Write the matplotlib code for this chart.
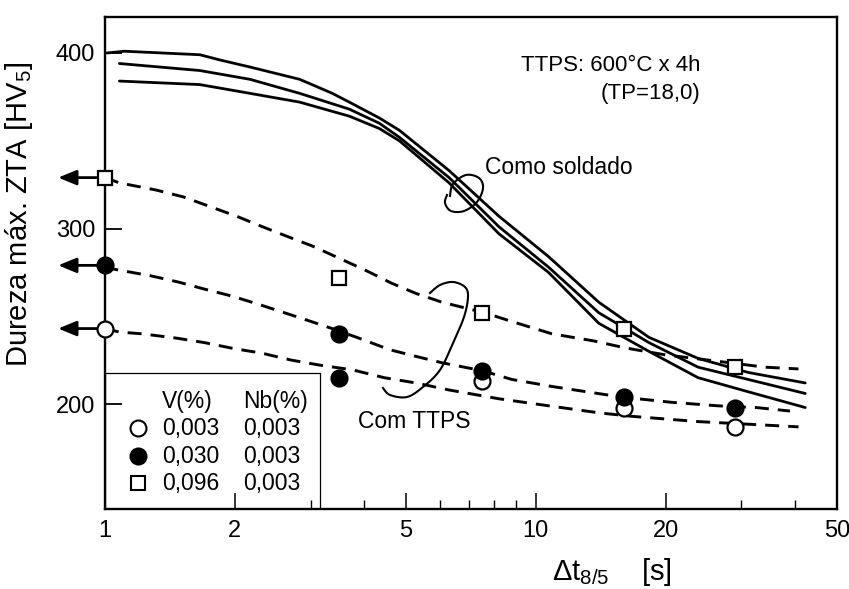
import numpy as np
import matplotlib
matplotlib.use('Agg')
import matplotlib.pyplot as plt
import matplotlib.transforms as mtransforms
from matplotlib.patches import Rectangle
from matplotlib.ticker import FixedLocator, FixedFormatter, NullFormatter

plt.rcParams['font.family'] = ['Liberation Sans', 'DejaVu Sans']
plt.rcParams['mathtext.fontset'] = 'custom'
plt.rcParams['mathtext.rm'] = 'Liberation Sans'
plt.rcParams['mathtext.it'] = 'Liberation Sans:italic'
plt.rcParams['mathtext.bf'] = 'Liberation Sans:bold'

# ---------------- data ----------------
pts_x = [1, 3.5, 7.5, 16, 29]
hv_v003 = [243, 215, 213, 198, 187]   # V=0,003 (open circles)
hv_v030 = [279, 240, 219, 204, 198]   # V=0,030 (filled circles)
hv_v096 = [329, 272, 252, 243, 221]   # V=0,096 (squares)

# "Como soldado" (as welded) solid curves
sol_top_x = [1.01, 1.11, 1.66, 1.85, 2.17, 2.83, 3.37, 3.69, 4.33, 4.82, 6.29, 8.21, 10.7,
             14.0, 18.3, 23.8, 31.1, 42.2]
sol_top_y = [400, 401, 399, 396, 392, 385, 377, 372, 363, 356, 333, 307, 284,
             258, 238, 226, 218, 212]
sol_mid_x = [1.08, 1.66, 2.17, 2.83, 3.69, 4.33, 4.82, 6.29, 8.21, 10.7, 14.0, 18.3, 23.8,
             31.1, 42.2]
sol_mid_y = [394, 390, 385, 377, 368, 360, 352, 329, 301, 278, 252, 235, 221,
             214, 206]
sol_bot_x = [1.08, 1.66, 2.17, 2.83, 3.69, 4.33, 4.82, 6.29, 8.21, 10.7, 14.0, 18.3, 23.8,
             31.1, 42.2]
sol_bot_y = [384, 382, 377, 372, 364, 357, 350, 326, 297, 275, 246, 230, 215,
             207, 198]

# "Com TTPS" dashed fit curves
dash_sq_x = [1.0, 1.08, 1.31, 1.52, 1.73, 2.02, 2.32, 2.68, 3.03, 3.50, 4.04, 4.61, 5.27, 6.06,
             7.6, 8.8, 10.9, 13.6, 16.1, 20.0, 25.2, 34.0, 40.7]
dash_sq_y = [329, 326, 322, 318, 313, 307, 301, 295, 290, 283, 276, 269, 263, 258,
             252, 247, 240, 236, 232, 228, 225, 221, 220]
dash_fc_x = [1.0, 1.04, 1.28, 1.48, 1.70, 1.97, 2.26, 2.61, 3.01, 3.46, 3.99, 4.57, 5.30, 6.06,
             7.5, 8.8, 10.9, 13.1, 15.8, 20.6, 26.4, 32.5, 38.9]
dash_fc_y = [279, 277, 273, 269.5, 265.5, 261.5, 257, 252, 247, 242, 236.5, 231, 227, 223.5,
             219, 214, 210, 207, 204, 201, 199, 198, 196]
dash_oc_x = [1.0, 1.08, 1.22, 1.47, 1.70, 2.00, 2.31, 2.71, 3.18, 3.75, 4.45, 5.27, 6.29,
             8.21, 10.7, 14.0, 16.7, 23.8, 40.7]
dash_oc_y = [243, 241, 240, 237.5, 235, 231.5, 229, 225, 222, 219.5, 215, 212, 208,
             203, 199, 195, 193, 190, 187]

legend_rows = [('0,003', '0,003'), ('0,030', '0,003'), ('0,096', '0,003')]
x_ticks = [1, 2, 5, 10, 20, 50]
x_ticklabels = ['1', '2', '5', '10', '20', '50']
x_minor = [3, 4, 6, 7, 8, 9, 30, 40]
y_ticks = [200, 300, 400]

# ---------------- figure ----------------
W, H = 849, 589
fig = plt.figure(figsize=(W / 100, H / 100), dpi=100)
ax = fig.add_axes([105 / W, 1 - 509 / H, 732 / W, 492 / H])
ax.set_xscale('log')
ax.set_xlim(1, 50)
ax.set_ylim(140.2, 420.5)

for s in ax.spines.values():
    s.set_linewidth(1.7)

ax.xaxis.set_major_locator(FixedLocator(x_ticks))
ax.xaxis.set_major_formatter(FixedFormatter(x_ticklabels))
ax.xaxis.set_minor_locator(FixedLocator(x_minor))
ax.xaxis.set_minor_formatter(NullFormatter())
ax.yaxis.set_major_locator(FixedLocator(y_ticks))
ax.yaxis.set_minor_locator(FixedLocator([]))
ax.tick_params(axis='x', which='major', direction='in', length=11.5, width=1.1,
               labelsize=17, pad=8)
ax.tick_params(axis='x', which='minor', direction='in', length=6.5, width=1.0)
ax.tick_params(axis='y', which='major', direction='in', length=12, width=1.3,
               labelsize=17, pad=7)

# solid curves
for xs, ys in [(sol_top_x, sol_top_y), (sol_mid_x, sol_mid_y), (sol_bot_x, sol_bot_y)]:
    ax.plot(xs, ys, color='k', lw=2.0, solid_capstyle='round', solid_joinstyle='round',
            zorder=3)

# dashed curves
for xs, ys in [(dash_sq_x, dash_sq_y), (dash_fc_x, dash_fc_y), (dash_oc_x, dash_oc_y)]:
    ln, = ax.plot(xs, ys, color='k', lw=2.1, zorder=3)
    ln.set_dashes([4.8, 3.1])

# markers
ms_c, ms_s, mew = 11.5, 10.5, 1.6
# open circles (the point at 3.5 s appears filled in the original figure)
drawn_filled_at = [3.5]
for x, y in zip(pts_x, hv_v003):
    fc = 'k' if x in drawn_filled_at else 'white'
    ax.plot([x], [y], 'o', ms=ms_c, mfc=fc, mec='k', mew=mew, zorder=6, clip_on=False)
ax.plot(pts_x, hv_v030, 'o', ls='none', ms=ms_c, mfc='k', mec='k', mew=mew, zorder=6, clip_on=False)
ax.plot(pts_x, hv_v096, 's', ls='none', ms=ms_s, mfc='white', mec='k', mew=mew, zorder=6, clip_on=False)

# arrows at x = 1 pointing left
ytr = ax.get_yaxis_transform()
for y in [hv_v096[0], hv_v030[0], hv_v003[0]]:
    ax.annotate('', xy=(-0.064, y), xycoords=ytr, xytext=(0, y), textcoords=ytr,
                arrowprops=dict(arrowstyle='-|>,head_length=1.1,head_width=0.45',
                                lw=2.0, color='k', shrinkA=0, shrinkB=0, mutation_scale=10),
                annotation_clip=False, zorder=4)

# labels
ax.set_ylabel('Dureza máx. ZTA [HV$_{\\mathrm{5}}$]', fontsize=21)
ax.yaxis.set_label_coords(-0.095, 0.598)
ax.set_xlabel('Δt$_{\\mathrm{8/5}}$    [s]', fontsize=21)
ax.xaxis.set_label_coords(0.693, -0.095)

# annotations
ax.text(0.813, 0.9024, 'TTPS: 600°C x 4h', transform=ax.transAxes, fontsize=16,
        ha='right', va='center')
ax.text(0.813, 0.8435, '(TP=18,0)', transform=ax.transAxes, fontsize=16,
        ha='right', va='center')
ax.text(0.519, 0.695, 'Como soldado', transform=ax.transAxes, fontsize=16.5,
        ha='left', va='center')
ax.text(0.3456, 0.178, 'Com TTPS', transform=ax.transAxes, fontsize=16.5,
        ha='left', va='center')

# loops (reference pixel coordinates)
ref = mtransforms.Affine2D().scale(1 / W, -1 / H).translate(0, 1) + fig.transFigure


def smooth(pts, n=14):
    pts = np.asarray(pts, float)
    P = np.vstack([pts[0], pts, pts[-1]])
    out = []
    for i in range(1, len(P) - 2):
        p0, p1, p2, p3 = P[i - 1], P[i], P[i + 1], P[i + 2]
        for t in np.linspace(0, 1, n, endpoint=False):
            t2, t3 = t * t, t * t * t
            out.append(0.5 * (2 * p1 + (-p0 + p2) * t + (2 * p0 - 5 * p1 + 4 * p2 - p3) * t2
                              + (-p0 + 3 * p1 - 3 * p2 + p3) * t3))
    out.append(P[-2])
    return np.array(out)


loop_ttps = [(383, 388), (390, 395), (407, 397), (423, 387), (440, 370), (453, 343),
             (464, 317), (468, 297), (465, 287), (453, 282), (440, 285), (430, 293)]
loop_sold = [(450, 196), (453, 184), (466, 175), (479, 178), (483, 188), (477, 202),
             (464, 211), (451, 211), (445, 203), (447, 195)]
for lp in (loop_ttps, loop_sold):
    c = smooth(lp)
    fig.add_artist(plt.Line2D(c[:, 0], c[:, 1], transform=ref, color='k', lw=1.5))

# legend box
ax.add_patch(Rectangle((0, 0), 0.2937, 0.2764, transform=ax.transAxes, fill=False,
                       ec='k', lw=0.9, zorder=2))
ax.text(0.0779, 0.2175, 'V(%)', transform=ax.transAxes, fontsize=16.5, va='center')
ax.text(0.1885, 0.2175, 'Nb(%)', transform=ax.transAxes, fontsize=16.5, va='center')
row_y = [0.1646, 0.1077, 0.0528]
leg_styles = [dict(marker='o', mfc='white', ms=11.5), dict(marker='o', mfc='k', ms=11.5),
              dict(marker='s', mfc='white', ms=10)]
for (v, nb), yy, st in zip(legend_rows, row_y, leg_styles):
    ax.plot([0.0451], [yy], transform=ax.transAxes, ls='none', mec='k', mew=1.5, **st)
    ax.text(0.0779, yy, v, transform=ax.transAxes, fontsize=16.5, va='center')
    ax.text(0.1885, yy, nb, transform=ax.transAxes, fontsize=16.5, va='center')

fig.savefig('out.png', dpi=100)
